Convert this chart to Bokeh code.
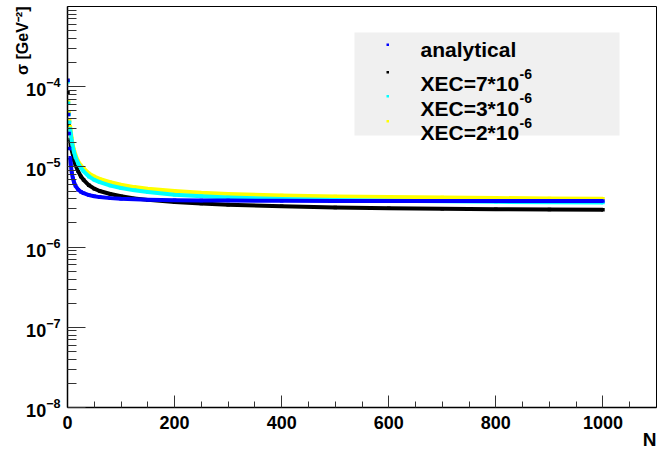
import math
from bokeh.plotting import figure
from bokeh.models import Range1d, FixedTicker, LogTickFormatter, Label, BoxAnnotation, Title
from bokeh.embed import file_html
from bokeh.resources import INLINE

# ---------------- data ----------------
N = [1, 2, 3, 4, 5, 6, 8, 10, 12, 15, 20, 25, 30, 40, 50, 60, 80, 100, 125, 150,
     200, 250, 300, 400, 500, 600, 700, 800, 900, 1000]

analytical = [1.2e-4, 4.5e-5, 2.6e-5, 1.7e-5, 1.3e-5, 1.1e-5, 8.4e-6, 7.2e-6, 6.5e-6, 5.8e-6,
              5.2e-6, 4.9e-6, 4.7e-6, 4.45e-6, 4.3e-6, 4.2e-6, 4.08e-6, 4.0e-6, 3.95e-6, 3.9e-6,
              3.85e-6, 3.82e-6, 3.8e-6, 3.78e-6, 3.77e-6, 3.77e-6, 3.76e-6, 3.76e-6, 3.76e-6, 3.76e-6]

xec7 = [8.5e-5, 4.6e-5, 3.3e-5, 2.6e-5, 2.2e-5, 1.9e-5, 1.6e-5, 1.42e-5, 1.22e-5, 1.05e-5,
        8.8e-6, 7.6e-6, 6.9e-6, 5.9e-6, 5.35e-6, 5.0e-6, 4.6e-6, 4.3e-6, 4.05e-6, 3.88e-6,
        3.66e-6, 3.5e-6, 3.38e-6, 3.22e-6, 3.12e-6, 3.05e-6, 3.0e-6, 2.97e-6, 2.95e-6, 2.93e-6]

xec3 = [1.15e-4, 6.2e-5, 4.5e-5, 3.6e-5, 3.0e-5, 2.6e-5, 2.1e-5, 1.75e-5, 1.55e-5, 1.32e-5,
        1.1e-5, 9.7e-6, 8.8e-6, 7.6e-6, 6.9e-6, 6.45e-6, 5.85e-6, 5.45e-6, 5.1e-6, 4.85e-6,
        4.5e-6, 4.3e-6, 4.15e-6, 3.98e-6, 3.86e-6, 3.78e-6, 3.72e-6, 3.67e-6, 3.63e-6, 3.6e-6]

xec2 = [1.2e-4, 6.5e-5, 4.8e-5, 3.8e-5, 3.2e-5, 2.8e-5, 2.25e-5, 1.85e-5, 1.65e-5, 1.4e-5,
        1.17e-5, 1.04e-5, 9.6e-6, 8.3e-6, 7.6e-6, 7.1e-6, 6.45e-6, 6.0e-6, 5.6e-6, 5.35e-6,
        5.0e-6, 4.75e-6, 4.6e-6, 4.4e-6, 4.28e-6, 4.2e-6, 4.14e-6, 4.09e-6, 4.05e-6, 4.02e-6]

x_ticks = [0, 200, 400, 600, 800, 1000]
x_minor = [50, 100, 150, 250, 300, 350, 450, 500, 550, 650, 700, 750, 850, 900, 950, 1050]
y_ticks = [1e-8, 1e-7, 1e-6, 1e-5, 1e-4]
y_minor = [m * 10.0 ** d for d in range(-8, -3) for m in range(2, 10)]

legend_texts = ["analytical", "XEC=7*10", "XEC=3*10", "XEC=2*10"]
legend_sup = ["", "-6", "-6", "-6"]
x_title = "N"
y_title = "σ [GeV⁻²]"

# ---------------- layout ----------------
W, H = 657, 455
FL, FR, FT, FB = 67, 656, 6, 407
X0, X1 = 0, 1100
LY0, LY1 = -8, -3

def dx(px):
    return X0 + (px - FL) / (FR - FL) * (X1 - X0)

def dy(py):
    return 10 ** (LY1 - (py - FT) / (FB - FT) * (LY1 - LY0))

p = figure(width=W, height=H, x_range=Range1d(X0, X1), y_range=Range1d(10 ** LY0, 10 ** LY1),
           y_axis_type="log", output_backend="svg", toolbar_location=None,
           min_border_left=FL, min_border_right=W - FR, min_border_top=FT, min_border_bottom=H - FB)
p.grid.visible = False
p.background_fill_color = "white"
p.border_fill_color = "white"
p.outline_line_color = "black"
p.outline_line_width = 1

FONT = "Liberation Sans"

p.xaxis.ticker = FixedTicker(ticks=x_ticks, minor_ticks=x_minor)
p.yaxis.ticker = FixedTicker(ticks=y_ticks, minor_ticks=y_minor)
p.yaxis.formatter = LogTickFormatter()

for ax in (p.xaxis, p.yaxis):
    ax.axis_line_color = "black"
    ax.axis_line_width = 1.5
    ax.major_tick_line_color = "#333333"
    ax.minor_tick_line_color = "#333333"
    ax.major_tick_out = 0
    ax.minor_tick_out = 0
    ax.major_label_text_font = FONT
    ax.major_label_text_font_style = "bold"
    ax.major_label_text_font_size = "18px"
    ax.major_label_text_color = "black"

p.xaxis.major_tick_in = 12
p.xaxis.minor_tick_in = 6
p.xaxis.major_label_standoff = 8
p.yaxis.major_tick_in = 18
p.yaxis.minor_tick_in = 9
p.yaxis.major_label_standoff = 7

# ---------------- axis titles (right / top aligned, as in the reference) ----------------
def make_title(text, size, vertical_align, standoff):
    t = Title(text=text, align="right", vertical_align=vertical_align, offset=0,
              text_font=FONT, text_font_style="bold", text_font_size=size, text_color="black")
    try:
        t.standoff = standoff
    except Exception:
        t.standoff = 0
    return t

p.add_layout(make_title(x_title, "19px", "top", -5), "below")
p.add_layout(make_title(y_title, "16px", "bottom", -15), "left")

# ---------------- curves ----------------
series = [(xec7, "black"), (xec2, "#ffff00"), (xec3, "#00ffff"), (analytical, "#0000ff")]
for vals, col in series:
    p.line(N[4:], vals[4:], line_color=col, line_width=4, line_join="round")
    p.scatter(N, vals, marker="square", size=3.5, fill_color=col, line_color=None)

# ---------------- legend ----------------
p.add_layout(BoxAnnotation(left=dx(354), right=dx(619), top=dy(32), bottom=dy(135),
                           fill_color="#f0f0f0", fill_alpha=1, line_color=None))
leg_cols = ["#0000ff", "black", "#00ffff", "#ffff00"]
mark_y = [44.3, 71.7, 95.7, 120.7]
base_y = [49.3, 83.0, 107.5, 132.0]
for i, txt in enumerate(legend_texts):
    p.add_layout(BoxAnnotation(left=dx(386), right=dx(388.5), top=dy(mark_y[i] - 1.2),
                               bottom=dy(mark_y[i] + 1.2), fill_color=leg_cols[i], fill_alpha=1,
                               line_color=None))
    p.add_layout(Label(x=dx(420), y=dy(base_y[i]), text=txt, text_font=FONT,
                       text_font_style="bold", text_font_size="21px", text_color="black",
                       text_align="left", text_baseline="alphabetic"))
    if legend_sup[i]:
        p.add_layout(Label(x=dx(519), y=dy(base_y[i] - 10), text=legend_sup[i], text_font=FONT,
                           text_font_style="bold", text_font_size="14px", text_color="black",
                           text_align="left", text_baseline="alphabetic"))

open("out.html", "w").write(file_html(p, INLINE))
